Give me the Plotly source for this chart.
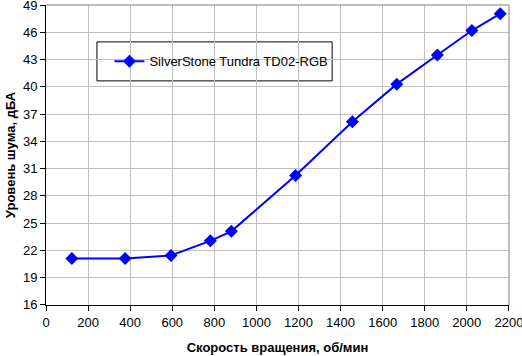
import plotly.graph_objects as go

speed = [123, 376, 594, 781, 881, 1186, 1456, 1667, 1860, 2024, 2159]
noise = [21.1, 21.1, 21.45, 23.05, 24.1, 30.25, 36.15, 40.3, 43.5, 46.2, 48.05]
series_name = "SilverStone Tundra TD02-RGB"
x_ticks = list(range(0, 2201, 200))
y_ticks = list(range(16, 50, 3))

fig = go.Figure()
fig.add_trace(go.Scatter(
    x=speed, y=noise, mode="lines+markers", name=series_name,
    line=dict(color="#0000FF", width=2),
    marker=dict(symbol="diamond", size=10, color="#0000FF"),
))

font = "Liberation Sans, Arial, sans-serif"
fig.update_layout(
    width=522, height=356,
    margin=dict(l=46, r=13, t=5, b=51),
    paper_bgcolor="white", plot_bgcolor="white",
    font=dict(family=font, size=13, color="black"),
    showlegend=True,
    legend=dict(
        x=0.137, y=0.812, xanchor="left", yanchor="middle",
        bgcolor="rgba(0,0,0,0)", borderwidth=0,
        font=dict(size=13), itemwidth=30,
    ),
    xaxis=dict(
        range=[0, 2200.5], tickvals=x_ticks, showgrid=True, gridcolor="#C0C0C0",
        gridwidth=1, showline=True, linecolor="black", linewidth=1,
        ticks="outside", ticklen=5, tickcolor="black", zeroline=False,
        automargin=False, ticklabeloverflow="allow", tickfont=dict(size=13),
        title=dict(text="<b>Скорость вращения, об/мин</b>", standoff=14, font=dict(size=13)),
    ),
    yaxis=dict(
        range=[15.99, 49.01], tickvals=y_ticks, showgrid=True, gridcolor="#C0C0C0",
        gridwidth=1, showline=True, linecolor="black", linewidth=1,
        ticks="outside", ticklen=5, tickcolor="black", zeroline=False,
        automargin=False, ticklabeloverflow="allow", tickfont=dict(size=13),
        title=dict(text="<b>Уровень шума, дБА</b>", standoff=4, font=dict(size=13)),
    ),
    shapes=[
        dict(type="line", xref="paper", yref="paper", x0=0, x1=1, y0=1, y1=1,
             line=dict(color="#808080", width=1)),
        dict(type="line", xref="paper", yref="paper", x0=1, x1=1, y0=0, y1=1,
             line=dict(color="#808080", width=1)),
        dict(type="rect", xref="paper", yref="paper", x0=0.110, x1=0.618,
             y0=0.747, y1=0.877, line=dict(color="black", width=1),
             fillcolor="white", layer="below"),
    ],
)

fig.write_html(
    "out.html",
    config={"displayModeBar": False},
    post_script="document.body.style.margin='0';document.body.style.overflow='hidden';",
)
